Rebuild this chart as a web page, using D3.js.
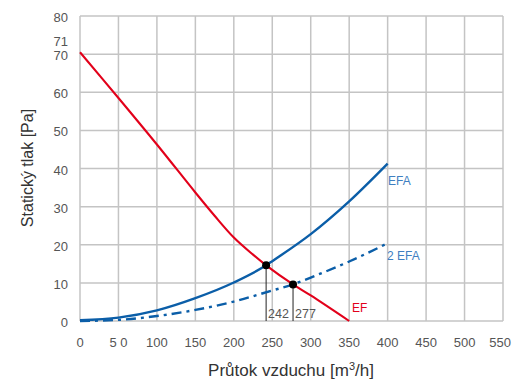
<!DOCTYPE html>
<html><head><meta charset="utf-8">
<script src="https://cdn.jsdelivr.net/npm/d3@7"></script>
<style>body{margin:0;background:#fff}svg{display:block}text{font-family:"Liberation Sans",Arial,sans-serif}</style>
</head><body><svg id="c" width="512" height="387"></svg>
<script>
const xTicks = [0,50,100,150,200,250,300,350,400,450,500,550];
const xTickLabels = ["0","5 0","100","150","200","250","300","350","400","450","500","550"];
const yTicks = [0,10,20,30,40,50,60,70,80];
const efFlow = [0,50,100,150,175,200,225,242,277,300,350];
const efPress = [70.5,58.5,46.3,33.7,27.6,21.9,17.4,14.6,9.6,6.7,0];
const efaFlow = [0,50,100,150,200,242,250,300,350,400];
const efaPress = [0.2,0.9,2.8,6.0,10.1,14.6,15.7,22.8,31.4,41.3];
const efa2Flow = [0,50,100,150,200,250,277,300,350,400];
const efa2Press = [0,0.3,1.3,2.9,5.1,8.0,9.6,11.4,15.6,20.4];
const opPoints = [{x:242,y:14.6},{x:277,y:9.6}];

const svg = d3.select("#c");
const x = d3.scaleLinear().domain([0,550]).range([80,503]);
const y = d3.scaleLinear().domain([0,80]).range([321,16]);
const grid = "#c4c4c4";

const g = svg.append("g");
g.selectAll(".vx").data(xTicks).join("line")
 .attr("x1",d=>x(d)).attr("x2",d=>x(d)).attr("y1",y(0)).attr("y2",y(80))
 .attr("stroke",grid).attr("stroke-width",1.5);
g.selectAll(".hy").data(yTicks).join("line")
 .attr("y1",d=>y(d)).attr("y2",d=>y(d)).attr("x1",x(0)).attr("x2",x(550))
 .attr("stroke",grid).attr("stroke-width",1.5);

// tick labels
svg.selectAll(".yl").data(yTicks).join("text")
 .attr("x",68).attr("y",d=>y(d)+6).attr("text-anchor","end")
 .attr("font-size",13).attr("fill","#555").text(d=>d);
svg.append("text").attr("x",68).attr("y",y(71)-4).attr("text-anchor","end")
 .attr("font-size",13).attr("fill","#555").text("71");
svg.selectAll(".xl").data(xTicks).join("text")
 .attr("x",(d,i)=>i===xTicks.length-1 ? 511 : x(d)).attr("y",347)
 .attr("text-anchor",(d,i)=>i===xTicks.length-1 ? "end" : "middle")
 .attr("font-size",13).attr("fill","#555").text((d,i)=>xTickLabels[i]);

const line = (xs,ys,c)=>d3.line().x((d,i)=>x(xs[i])).y((d,i)=>y(ys[i])).curve(c)(xs);

// drop lines
svg.selectAll(".drop").data(opPoints).join("line")
 .attr("x1",d=>x(d.x)).attr("x2",d=>x(d.x)).attr("y1",d=>y(d.y)).attr("y2",y(0))
 .attr("stroke","#222").attr("stroke-width",1);
svg.selectAll(".dl").data(opPoints).join("text")
 .attr("x",d=>x(d.x)+2).attr("y",y(0)-3).attr("font-size",12.5).attr("fill","#555").text(d=>d.x);

svg.append("path").attr("d",line(efFlow,efPress,d3.curveCatmullRom)).attr("fill","none").attr("stroke","#e2001a").attr("stroke-width",2.1);
svg.append("path").attr("d",line(efaFlow,efaPress,d3.curveMonotoneX)).attr("fill","none").attr("stroke","#0b5ea8").attr("stroke-width",2.4);
svg.append("path").attr("d",line(efa2Flow,efa2Press,d3.curveMonotoneX)).attr("fill","none").attr("stroke","#0b5ea8").attr("stroke-width",2.4)
 .attr("stroke-dasharray","10,5,3,5");

svg.selectAll(".dot").data(opPoints).join("circle")
 .attr("cx",d=>x(d.x)).attr("cy",d=>y(d.y)).attr("r",4).attr("fill","#000");

svg.append("text").attr("x",388).attr("y",185).attr("font-size",12).attr("fill","#3f7fc1").text("EFA");
svg.append("text").attr("x",387).attr("y",260).attr("font-size",12).attr("fill","#3f7fc1").text("2 EFA");
svg.append("text").attr("x",352).attr("y",312).attr("font-size",12).attr("fill","#e2001a").text("EF");

const xt = svg.append("text").attr("x",291).attr("y",376).attr("text-anchor","middle").attr("font-size",17).attr("fill","#333");
xt.append("tspan").text("Průtok vzduchu [m");
xt.append("tspan").attr("dy",-6).attr("font-size",11).text("3");
xt.append("tspan").attr("dy",6).text("/h]");
svg.append("text").attr("transform","translate(33,168) rotate(-90)").attr("text-anchor","middle")
 .attr("font-size",16).attr("fill","#333").text("Statický tlak [Pa]");
</script></body></html>
